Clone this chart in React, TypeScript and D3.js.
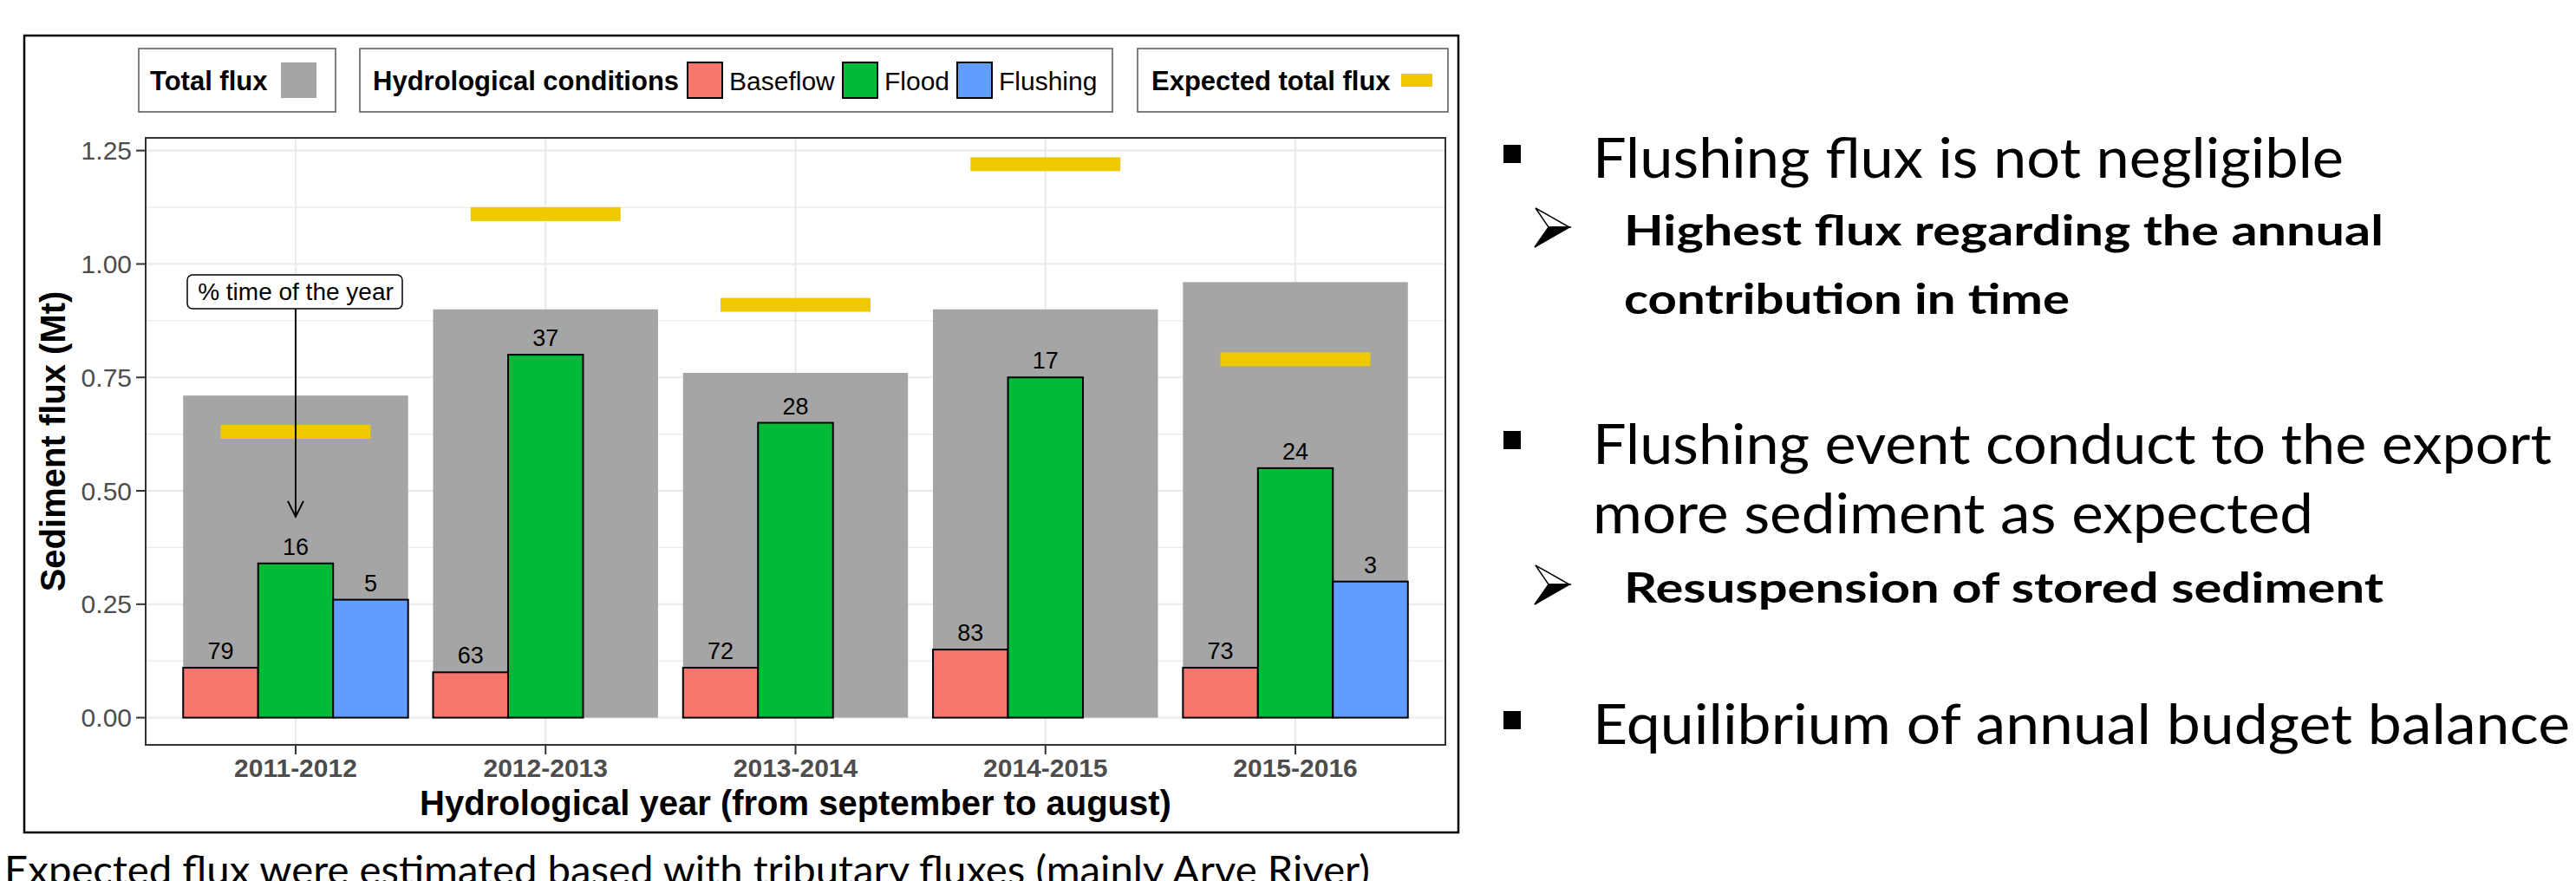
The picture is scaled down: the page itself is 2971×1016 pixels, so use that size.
import * as d3 from "d3"

const years = ["2011-2012", "2012-2013", "2013-2014", "2014-2015", "2015-2016"]
const conditions = ["Baseflow", "Flood", "Flushing"]
const conditionColors = ["#F8766D", "#00BA38", "#619CFF"]

// flux in Mt per hydrological condition (null = no event that year)
const baseflowFlux = [0.11, 0.10, 0.11, 0.15, 0.11]
const floodFlux = [0.34, 0.80, 0.65, 0.75, 0.55]
const flushingFlux: (number | null)[] = [0.26, null, null, null, 0.30]

// % time of the year for each condition
const baseflowPct = [79, 63, 72, 83, 73]
const floodPct = [16, 37, 28, 17, 24]
const flushingPct: (number | null)[] = [5, null, null, null, 3]

const totalFlux = [0.71, 0.90, 0.76, 0.90, 0.96]
const expectedFlux = [0.63, 1.11, 0.91, 1.22, 0.79]

const yTicks = [0, 0.25, 0.5, 0.75, 1.0, 1.25]
const yMinor = [0.125, 0.375, 0.625, 0.875, 1.125]

const bulletLines = [
  { kind: "main", text: "Flushing flux is not negligible", y: 205, len: 866 },
  { kind: "sub", text: "Highest flux regarding the annual", y: 283, len: 876 },
  { kind: "cont", text: "contribution in time", y: 362, len: 514 },
  { kind: "main", text: "Flushing event conduct to the export", y: 535, len: 1106 },
  { kind: "cont2", text: "more sediment as expected", y: 615, len: 831 },
  { kind: "sub", text: "Resuspension of stored sediment", y: 695, len: 876 },
  { kind: "main", text: "Equilibrium of annual budget balance", y: 858, len: 1127 },
]

const caption = "Expected flux were estimated based with tributary fluxes (mainly Arve River)"

const W = 2971
const H = 1016
const panel = { left: 168, right: 1667, top: 159, bottom: 859 }
const chartFont = "'Liberation Sans', Arial, sans-serif"
const textFont = "Lato, 'Open Sans', sans-serif"

export default function App() {
  const x = d3.scaleBand<string>()
    .domain(years)
    .range([panel.left, panel.right])
    .paddingInner(0.1)
    .paddingOuter(0.15)

  const xSub = d3.scaleBand<string>()
    .domain(conditions)
    .range([0, x.bandwidth()])

  const y = d3.scaleLinear()
    .domain([-0.06, 1.278])
    .range([panel.bottom, panel.top])

  const step = x.step()
  const center = (yr: string) => (x(yr) as number) + x.bandwidth() / 2

  const series = [baseflowFlux, floodFlux, flushingFlux]
  const pcts = [baseflowPct, floodPct, flushingPct]

  const bars: { yr: string, c: number, v: number, p: number }[] = []
  years.forEach((yr, i) => {
    conditions.forEach((_, c) => {
      const v = series[c][i]
      if (v != null) bars.push({ yr, c, v, p: pcts[c][i] as number })
    })
  })

  const arrowX = center(years[0])

  return (
    <div style={{ position: "absolute", left: 0, top: 0 }}>
      <svg width={W} height={H} viewBox={`0 0 ${W} ${H}`} xmlns="http://www.w3.org/2000/svg">
        <rect x={0} y={0} width={W} height={H} fill="#ffffff" />

        {/* outer frame */}
        <rect x={28} y={41} width={1654} height={919} fill="none" stroke="#000" strokeWidth={2.5} />

        {/* legends */}
        <g fontFamily={chartFont} fontSize={31}>
          <rect x={160} y={56} width={227} height={73} fill="#fff" stroke="#555" strokeWidth={1.5} />
          <text x={173} y={104} fontWeight="bold">Total flux</text>
          <rect x={324} y={72} width={41} height={41} fill="#A5A5A5" />

          <rect x={415} y={56} width={868} height={73} fill="#fff" stroke="#555" strokeWidth={1.5} />
          <text x={430} y={104} fontWeight="bold">Hydrological conditions</text>
          {conditions.map((c, i) => {
            const kx = [793, 972, 1104][i]
            return (
              <g key={c}>
                <rect x={kx} y={72} width={40} height={41} fill={conditionColors[i]} stroke="#000" strokeWidth={2} />
                <text x={kx + 48} y={104} fontSize={30}>{c}</text>
              </g>
            )
          })}

          <rect x={1312} y={56} width={358} height={73} fill="#fff" stroke="#555" strokeWidth={1.5} />
          <text x={1328} y={104} fontWeight="bold">Expected total flux</text>
          <rect x={1616} y={85} width={36} height={15} fill="#EEC900" />
        </g>

        {/* panel */}
        <rect x={panel.left} y={panel.top} width={panel.right - panel.left} height={panel.bottom - panel.top} fill="#fff" />
        {yMinor.map(t => (
          <line key={"m" + t} x1={panel.left} x2={panel.right} y1={y(t)} y2={y(t)} stroke="#EBEBEB" strokeWidth={1.2} />
        ))}
        {yTicks.map(t => (
          <line key={"g" + t} x1={panel.left} x2={panel.right} y1={y(t)} y2={y(t)} stroke="#EBEBEB" strokeWidth={2.2} />
        ))}
        {years.map(yr => (
          <line key={"gx" + yr} x1={center(yr)} x2={center(yr)} y1={panel.top} y2={panel.bottom} stroke="#EBEBEB" strokeWidth={2.2} />
        ))}

        {/* total flux */}
        {years.map((yr, i) => (
          <rect key={"t" + yr} x={x(yr)} y={y(totalFlux[i])} width={x.bandwidth()} height={y(0) - y(totalFlux[i])} fill="#A5A5A5" />
        ))}

        {/* expected total flux */}
        {years.map((yr, i) => (
          <rect key={"e" + yr} x={center(yr) - step * 0.3} y={y(expectedFlux[i]) - 8} width={step * 0.6} height={16} fill="#EEC900" />
        ))}

        {/* condition bars */}
        {bars.map(b => (
          <rect key={b.yr + b.c}
            x={(x(b.yr) as number) + (xSub(conditions[b.c]) as number)}
            y={y(b.v)} width={xSub.bandwidth()} height={y(0) - y(b.v)}
            fill={conditionColors[b.c]} stroke="#000" strokeWidth={2} />
        ))}
        {bars.map(b => (
          <text key={"l" + b.yr + b.c}
            x={(x(b.yr) as number) + (xSub(conditions[b.c]) as number) + xSub.bandwidth() / 2}
            y={y(b.v) - 10} textAnchor="middle" fontFamily={chartFont} fontSize={27} fill="#000">{b.p}</text>
        ))}

        {/* annotation */}
        <line x1={arrowX} x2={arrowX} y1={356} y2={y(0.443)} stroke="#000" strokeWidth={2} />
        <path d={`M${arrowX - 9},${y(0.443) - 18} L${arrowX},${y(0.443)} L${arrowX + 9},${y(0.443) - 18}`} fill="none" stroke="#000" strokeWidth={2} />
        <rect x={216} y={317} width={248} height={39} rx={6} fill="#fff" stroke="#000" strokeWidth={1.5} />
        <text x={arrowX} y={346} textAnchor="middle" fontFamily={chartFont} fontSize={28}>% time of the year</text>

        <rect x={panel.left} y={panel.top} width={panel.right - panel.left} height={panel.bottom - panel.top} fill="none" stroke="#333" strokeWidth={2} />

        {/* y axis */}
        {yTicks.map(t => (
          <g key={"yt" + t}>
            <line x1={157} x2={panel.left} y1={y(t)} y2={y(t)} stroke="#333" strokeWidth={2} />
            <text x={152} y={y(t) + 10.5} textAnchor="end" fontFamily={chartFont} fontSize={30} fill="#4D4D4D">{d3.format(".2f")(t)}</text>
          </g>
        ))}
        <text transform={`translate(75, ${(panel.top + panel.bottom) / 2}) rotate(-90)`} textAnchor="middle"
          fontFamily={chartFont} fontSize={40} fontWeight="bold">Sediment flux (Mt)</text>

        {/* x axis */}
        {years.map(yr => (
          <g key={"xt" + yr}>
            <line x1={center(yr)} x2={center(yr)} y1={panel.bottom} y2={panel.bottom + 11} stroke="#333" strokeWidth={2} />
            <text x={center(yr)} y={896} textAnchor="middle" fontFamily={chartFont} fontSize={30} fontWeight="bold" fill="#4D4D4D">{yr}</text>
          </g>
        ))}
        <text x={(panel.left + panel.right) / 2} y={940} textAnchor="middle" fontFamily={chartFont} fontSize={40} fontWeight="bold">
          Hydrological year (from september to august)
        </text>

        {/* caption */}
        <text x={5} y={1020} fontFamily={textFont} fontSize={46} textLength={1575} lengthAdjust="spacingAndGlyphs">{caption}</text>

        {/* bullet text */}
        {bulletLines.map((l, i) => {
          const bold = l.kind === "sub" || l.kind === "cont"
          const tx = bold ? 1873 : 1837
          return (
            <g key={"b" + i}>
              {l.kind === "main" && (
                <rect x={1734} y={l.y - 38} width={20} height={21} fill="#000" />
              )}
              {l.kind === "sub" && (
                <g>
                  <path d={`M1771,${l.y - 43} L1810,${l.y - 21} L1786,${l.y - 21} Z`} fill="#fff" stroke="#000" strokeWidth={1.5} />
                  <path d={`M1786,${l.y - 21} L1810,${l.y - 21} L1770,${l.y + 2} Z`} fill="#000" stroke="#000" strokeWidth={1.5} />
                </g>
              )}
              <text x={tx} y={l.y} fontFamily={textFont} fontSize={bold ? 48 : 64} fontWeight={bold ? "bold" : "normal"}
                textLength={l.len} lengthAdjust="spacingAndGlyphs">{l.text}</text>
            </g>
          )
        })}
      </svg>
    </div>
  )
}
